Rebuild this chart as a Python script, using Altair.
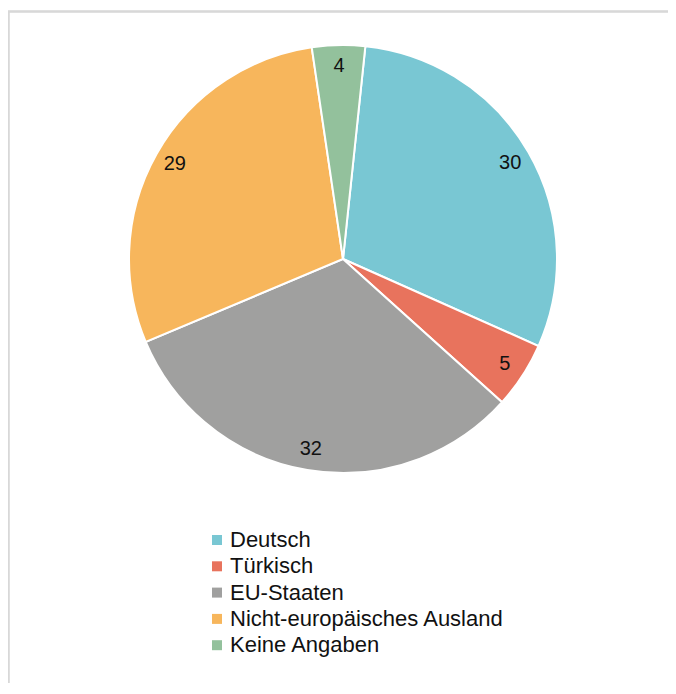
import altair as alt
import pandas as pd
import math

categories = ["Deutsch", "Türkisch", "EU-Staaten", "Nicht-europäisches Ausland", "Keine Angaben"]
values = [30, 5, 32, 29, 4]
colors = ["#79C7D3", "#E8735D", "#A0A09F", "#F7B65C", "#93C19C"]

df = pd.DataFrame({"cat": categories, "val": values, "ord": list(range(len(values)))})

start = 6 * math.pi / 180
theta_scale = alt.Scale(range=[start, start + 2 * math.pi])
cx, cy, R = 335, 248, 214

base = alt.Chart(df).encode(
    theta=alt.Theta("val:Q", stack=True, scale=theta_scale),
    order=alt.Order("ord:Q"),
)

pie = base.mark_arc(outerRadius=R, stroke="white", strokeWidth=2, x=cx, y=cy).encode(
    color=alt.Color(
        "cat:N",
        scale=alt.Scale(domain=categories, range=colors),
        sort=categories,
        legend=alt.Legend(
            title=None,
            orient="none",
            legendX=198,
            legendY=518,
            symbolType="square",
            symbolSize=100,
            symbolStrokeWidth=0,
            labelFontSize=22,
            labelFont="Liberation Sans",
            labelColor="#111111",
            labelOffset=2,
            labelLimit=500,
            rowPadding=4.3,
        ),
    )
)

labels = base.mark_text(radius=193, fontSize=20, font="Liberation Sans", color="#111111", x=cx, y=cy).encode(
    text="val:Q"
)

border_top = alt.Chart(df).mark_rule(color="#d8d8d8", strokeWidth=1.5).encode(
    x=alt.value(0), x2=alt.value(700), y=alt.value(0.5)
)
border_left = alt.Chart(df).mark_rule(color="#d8d8d8", strokeWidth=1.5).encode(
    x=alt.value(0.5), y=alt.value(0), y2=alt.value(700)
)

chart = alt.layer(border_top, border_left, pie, labels).properties(
    width=660, height=672,
    padding={"left": 0, "top": 3, "right": 0, "bottom": 0},
    autosize=alt.AutoSizeParams(type="none"),
).configure_view(stroke=None)

chart.save("out.html", embed_options={"renderer": "svg", "actions": False})
